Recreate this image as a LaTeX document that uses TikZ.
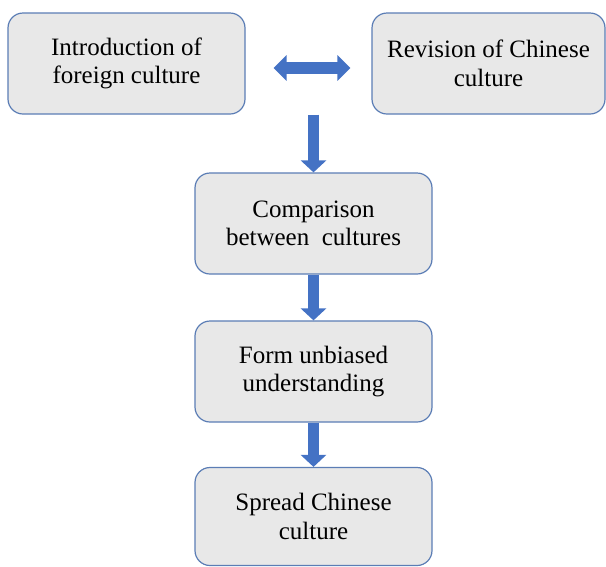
\documentclass[tikz,border=0pt]{standalone}
\usepackage{fontspec}
\setmainfont{Liberation Serif}
\usetikzlibrary{arrows.meta}
\definecolor{boxfill}{HTML}{E8E8E8}
\definecolor{boxline}{HTML}{5B7DB5}
\definecolor{arrowblue}{HTML}{4472C4}
\tikzset{
  stage/.style={draw=boxline, line width=1.2pt, fill=boxfill, rounded corners=15pt,
    minimum width=237pt, minimum height=101pt, align=center, inner sep=0pt,
    font=\fontsize{25}{28.5}\selectfont},
  flow/.style={draw=arrowblue, line width=11.5pt,
    -{Triangle[width=25pt,length=12pt]}},
}
\begin{document}
\begin{tikzpicture}[x=1pt,y=-1pt]
\useasboundingbox (0,0) rectangle (606,566);
% Top row
\node[stage] (intro) at (126.5,63.5) {Introduction of\\foreign culture};
\node[stage, minimum width=233pt] (revision) at (488.5,63.5) {Revision of Chinese\\culture};
% Main column
\node[stage] (compare) at (313.5,223.5) {Comparison\\between\ \ cultures};
\node[stage] (unbiased) at (313.5,371.5) {Form unbiased\\understanding};
\node[stage, minimum height=98pt] (spread) at (313.5,516.5) {Spread Chinese\\culture};
% Block arrows
\draw[flow, {Triangle[width=25pt,length=13pt]}-{Triangle[width=25pt,length=13pt]},
    shorten <=28pt, shorten >=21pt]
    ([yshift=-4.5pt]intro.east) -- ([yshift=-4.5pt]revision.west);
\draw[flow] (intro.south -| compare.north) -- (compare.north);
\draw[flow] (compare.south) -- (unbiased.north);
\draw[flow] (unbiased.south) -- (spread.north);
\end{tikzpicture}
\end{document}
